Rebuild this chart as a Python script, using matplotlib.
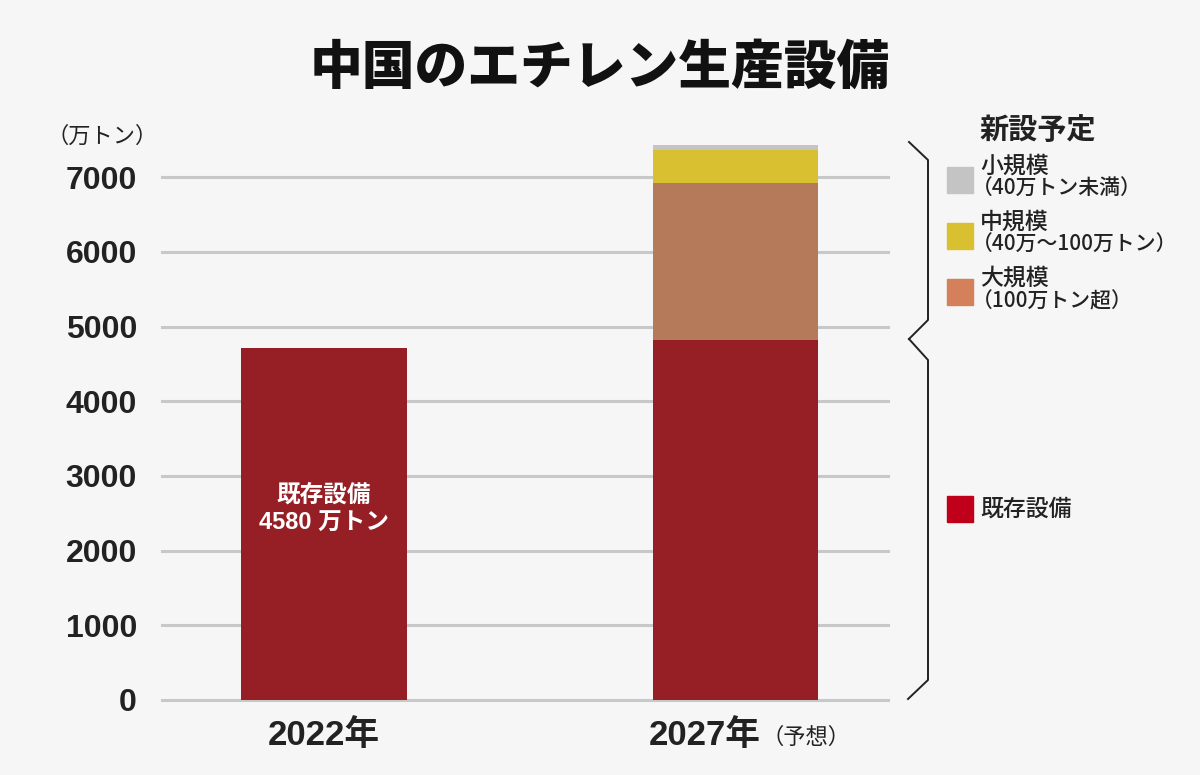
import matplotlib.pyplot as plt
from matplotlib.lines import Line2D
from matplotlib.patches import Rectangle
from matplotlib.transforms import blended_transform_factory

plt.rcParams['font.family'] = ['Noto Sans CJK JP', 'DejaVu Sans']
num_font = ['Liberation Sans', 'Noto Sans CJK JP']

# --- データ ---
years = ["2022年", "2027年"]
existing = [4720, 4820]      # 既存設備
large = [0, 2100]            # 大規模（100万トン超）
medium = [0, 440]            # 中規模（40万～100万トン）
small = [0, 70]              # 小規模（40万トン未満）
yticks = [0, 1000, 2000, 3000, 4000, 5000, 6000, 7000]

bg = "#f6f6f6"
c_exist = "#961e25"
c_large = "#b57a5a"
c_medium = "#d8c030"
c_small = "#c4c4c4"
txt = "#222222"

fig = plt.figure(figsize=(12, 7.75), dpi=100, facecolor=bg)
ax = fig.add_axes([0.135, 0.0968, 0.605, 0.7226], facecolor=bg)

x = list(range(len(years)))
w = 0.403
bottom2 = [e + l for e, l in zip(existing, large)]
bottom3 = [b + m for b, m in zip(bottom2, medium)]
ax.bar(x, existing, w, color=c_exist, zorder=3)
ax.bar(x, large, w, bottom=existing, color=c_large, zorder=3)
ax.bar(x, medium, w, bottom=bottom2, color=c_medium, zorder=3)
ax.bar(x, small, w, bottom=bottom3, color=c_small, zorder=3)

ax.set_xlim(-0.394, 1.371)
ax.set_ylim(0, 7500)
ax.set_yticks(yticks)
ax.set_yticklabels([str(v) for v in yticks], fontsize=23, fontweight="bold",
                   color=txt, family=num_font)
ax.tick_params(axis="y", length=0, pad=18)
ax.set_xticks([])
ax.grid(axis="y", color="#c8c8c8", linewidth=2.2, zorder=0)
for gl in ax.yaxis.get_gridlines():
    gl.set_clip_on(False)
for s in ax.spines.values():
    s.set_visible(False)

# x軸ラベル
tr = blended_transform_factory(ax.transData, fig.transFigure)
ax.text(0, 1 - 736 / 775, years[0], transform=tr, ha="center", va="center",
        fontsize=25, fontweight="bold", color=txt, family=num_font)
ax.annotate(years[1], xy=(1, 1 - 736 / 775), xycoords=tr, xytext=(18, 0),
            textcoords="offset points", ha="right", va="center",
            fontsize=25, fontweight="bold", color=txt, family=num_font)
ax.annotate("（予想）", xy=(1, 1 - 737 / 775), xycoords=tr, xytext=(19, 0),
            textcoords="offset points", ha="left", va="center",
            fontsize=16, color=txt)

# 棒の中のラベル
ax.text(0, 2550, "既存設備\n4580 万トン", ha="center", va="center", fontsize=17,
        fontweight="bold", color="white", linespacing=1.3, zorder=4,
        family=num_font)

# タイトル・単位
fig.text(0.5, 1 - 68 / 775, "中国のエチレン生産設備", ha="center", va="center",
         fontsize=38, fontweight="black", color="#111111")
fig.text(102 / 1200, 1 - 136 / 775, "（万トン）", ha="center", va="center",
         fontsize=16, color=txt)


def px(xp, yp):
    return xp / 1200, 1 - yp / 775


# 波括弧
brace_top = [(909, 142), (928, 160), (928, 320), (909, 339)]
brace_bot = [(909, 339), (928, 360), (928, 680), (908, 699)]
for pts in (brace_top, brace_bot):
    xs, ys = zip(*[px(a, b) for a, b in pts])
    fig.add_artist(Line2D(xs, ys, color=txt, linewidth=1.4,
                          transform=fig.transFigure))

# 凡例
fig.text(*px(979, 130), "新設予定", ha="left", va="center", fontsize=21,
         fontweight="bold", color=txt)
legend_items = [
    (c_small, "小規模", "（40万トン未満）", 180),
    (c_medium, "中規模", "（40万～100万トン）", 236),
    ("#d4805a", "大規模", "（100万トン超）", 292),
]
for col, name, sub, yc in legend_items:
    fig.add_artist(Rectangle(px(947, yc + 13), 26 / 1200, 26 / 775, color=col,
                             transform=fig.transFigure))
    fig.text(*px(980, yc - 14), name, ha="left", va="center", fontsize=16.5,
             fontweight="medium", color=txt)
    fig.text(*px(972, yc + 9), sub, ha="left", va="center", fontsize=15,
             fontweight="medium", color=txt)

fig.add_artist(Rectangle(px(947, 522), 26 / 1200, 26 / 775, color="#c0001a",
                         transform=fig.transFigure))
fig.text(*px(980, 509), "既存設備", ha="left", va="center", fontsize=16.5,
         fontweight="medium", color=txt)

fig.savefig("out.png", dpi=100, facecolor=bg)
